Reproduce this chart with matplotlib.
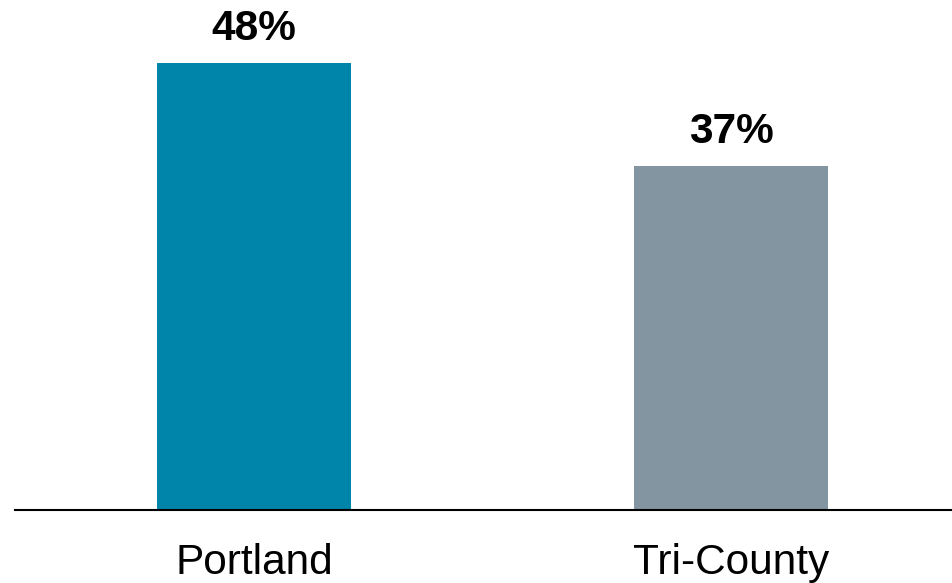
import matplotlib
matplotlib.use("Agg")
import matplotlib.pyplot as plt

categories = ["Portland", "Tri-County"]
values = [48, 37]
labels = ["48%", "37%"]
colors = ["#0085AA", "#8395A1"]

plt.rcParams['font.family'] = ['Liberation Sans', 'DejaVu Sans']

fig = plt.figure(figsize=(9.53, 5.83), dpi=100)
ax = fig.add_axes([15/953, 1 - 510/583, 1 - 15/953, 510/583])

x = list(range(len(categories)))
bars = ax.bar(x, values, width=0.407, color=colors)
for xi, v, lab in zip(x, values, labels):
    ax.annotate(lab, (xi, v), xytext=(0, 10), textcoords="offset points",
                ha="center", va="bottom", fontsize=30.5, fontweight="bold")

ax.set_xlim(-0.501, 1.465)
ax.set_ylim(0, 54.8)
ax.set_xticks(x)
ax.set_xticklabels(categories, fontsize=30.5)
ax.tick_params(axis="x", length=0, pad=24)
ax.set_yticks([])
for s in ["top", "right", "left"]:
    ax.spines[s].set_visible(False)
ax.spines["bottom"].set_linewidth(1.5)
ax.spines["bottom"].set_color("black")

fig.savefig("out.png", dpi=100)
